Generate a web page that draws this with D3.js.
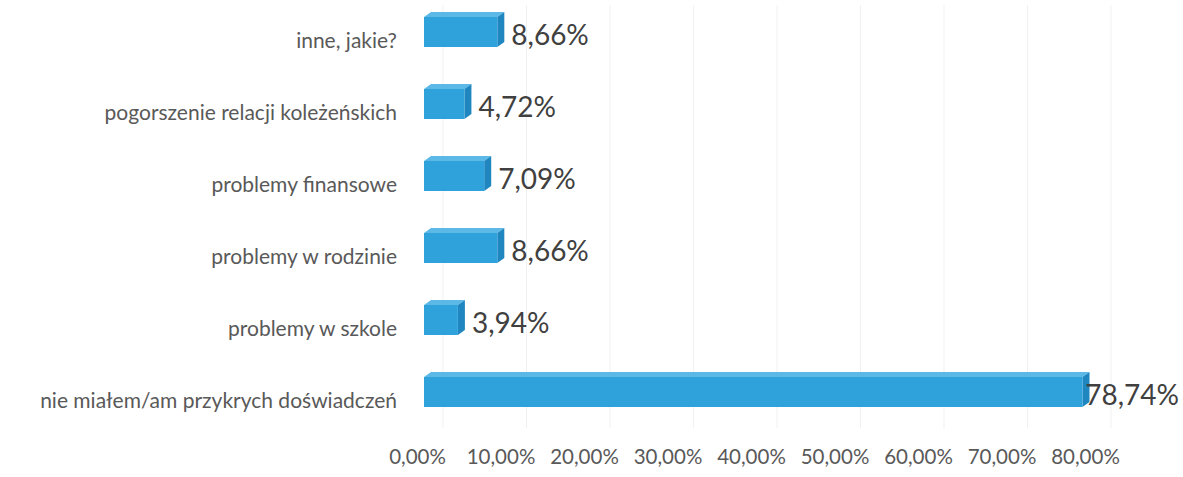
<!DOCTYPE html>
<html><head><meta charset="utf-8">
<script src="https://cdn.jsdelivr.net/npm/d3@7"></script>
<style>
html,body{margin:0;padding:0;background:#fff;}
svg{display:block;}
</style></head>
<body><svg id="c" width="1183" height="477"></svg>
<script>
const categories = ["inne, jakie?","pogorszenie relacji koleżeńskich","problemy finansowe","problemy w rodzinie","problemy w szkole","nie miałem/am przykrych doświadczeń"];
const values = [8.66, 4.72, 7.09, 8.66, 3.94, 78.74];
const valueLabels = ["8,66%","4,72%","7,09%","8,66%","3,94%","78,74%"];
const ticks = [0,10,20,30,40,50,60,70,80];
const tickLabels = ["0,00%","10,00%","20,00%","30,00%","40,00%","50,00%","60,00%","70,00%","80,00%"];

const svg = d3.select("#c");
const font = "Lato, 'Open Sans', sans-serif";
const W = 1183;
const x = d3.scaleLinear().domain([0,80]).range([417,1085]);
const y = d3.scalePoint().domain(categories).range([32,392]);
const dx = 7, dy = -5, h = 30, fo = 7;

// faint gridlines (back wall)
svg.append("g").selectAll("line").data(ticks).join("line")
  .attr("x1", d=>x(d)+26).attr("x2", d=>x(d)+26)
  .attr("y1", 5).attr("y2", 428)
  .attr("stroke", "#f1f1f1").attr("stroke-width", 1);

const bars = svg.append("g").selectAll("g").data(categories).join("g");
bars.each(function(c,i){
  const g = d3.select(this);
  const x0 = x(0)+fo, x1 = x(values[i])+fo+1;
  const yt = y(c)-h/2, yb = y(c)+h/2;
  g.append("path").attr("d", `M${x0},${yt}L${x0+dx},${yt+dy}L${x1+dx},${yt+dy}L${x1},${yt}Z`).attr("fill","#5cb9e7");
  g.append("path").attr("d", `M${x1},${yt}L${x1+dx},${yt+dy}L${x1+dx},${yb+dy}L${x1},${yb}Z`).attr("fill","#1f86bf");
  g.append("rect").attr("x",x0).attr("y",yt).attr("width",x1-x0).attr("height",h).attr("fill","#2fa2db");
  const t = g.append("text").attr("x", x1+dx+7).attr("y", y(c)+6).attr("dominant-baseline","middle")
    .attr("font-family",font).attr("font-size",28).attr("fill","#404040").text(valueLabels[i]);
  const len = t.node().getComputedTextLength();
  if (x1+dx+7+len > W-4) t.attr("x", W-4-len);
});

// category axis
const ya = svg.append("g").attr("transform","translate(397,9)")
  .call(d3.axisLeft(y).tickSize(0).tickPadding(0));
ya.select(".domain").remove();
ya.selectAll("text").attr("font-family",font).attr("font-size",21).attr("fill","#595959");

// value axis
const xa = svg.append("g").attr("transform","translate(0,449)")
  .call(d3.axisBottom(x).tickValues(ticks).tickFormat((d,i)=>tickLabels[i]).tickSize(0).tickPadding(0));
xa.select(".domain").remove();
xa.selectAll("text").attr("font-family",font).attr("font-size",20.5).attr("fill","#595959");
</script></body></html>
